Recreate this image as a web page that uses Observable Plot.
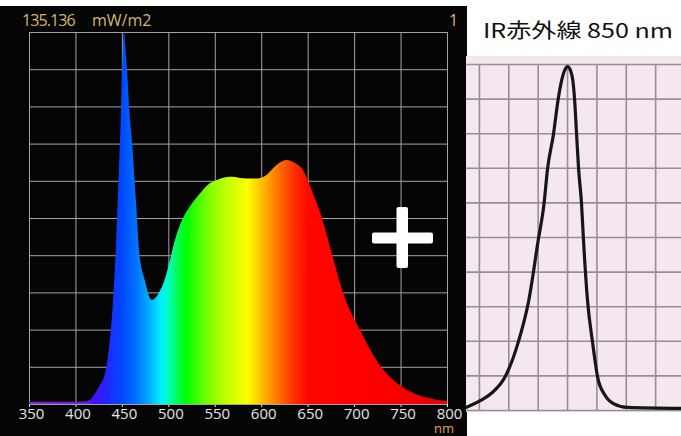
<!DOCTYPE html>
<html><head><meta charset="utf-8">
<script src="https://cdn.jsdelivr.net/npm/d3@7"></script>
<script src="https://cdn.jsdelivr.net/npm/@observablehq/plot@0.6"></script>
<style>
body{margin:0;background:#fff;}
#wrap{position:relative;width:681px;height:436px;overflow:hidden;background:#fff;}
#wrap > svg{position:absolute;}
</style></head><body><div id="wrap"></div>
<script>
// ---- data: visible-light spectrum (left panel) ----
const specNm  = [350,380,410,415,420,426,432,436,440,444,446,448,449.5,451,452.5,454,456,458,461,465,469,475,478,482,486,490,494,498,503,507,514,523,534,545,553,563,569,580,590,598,606,611,620,627,638,645,650,657,665,671,677,688,706,729,752,780,800];
const specVal = [0.006,0.006,0.007,0.01,0.025,0.05,0.085,0.15,0.26,0.45,0.58,0.71,0.82,0.95,1.0,0.95,0.88,0.79,0.70,0.55,0.40,0.33,0.30,0.28,0.285,0.30,0.32,0.35,0.40,0.44,0.49,0.53,0.566,0.594,0.603,0.610,0.611,0.607,0.606,0.607,0.616,0.629,0.649,0.656,0.645,0.629,0.602,0.557,0.503,0.45,0.395,0.30,0.20,0.10,0.046,0.016,0.008];
const xTicks  = [350,400,450,500,550,600,650,700,750,800];
const yGrid   = [0,0.1,0.2,0.3,0.4,0.5,0.6,0.7,0.8,0.9,1];
const headerValue = "135.136";
const headerUnit  = "mW/m2";
const headerRight = "1";
const xUnit = "nm";

// ---- data: IR 850 nm emission (right panel) ----
const irNm  = [764,776,786,797,808,817,825,830,833,838,842,845,847.5,850,852.5,854.5,856,857.7,859.4,861.9,863.6,867,871.3,875.5,881.5,889,901,947];
const irVal = [0.009,0.029,0.052,0.098,0.197,0.318,0.491,0.598,0.699,0.798,0.899,0.954,0.983,0.994,0.983,0.954,0.899,0.798,0.699,0.598,0.491,0.318,0.197,0.098,0.046,0.020,0.009,0.006];
const irGridX = [775,800,825,850,875,900,925];
const irGridY = [0,0.1,0.2,0.3,0.4,0.5,0.6,0.7,0.8,0.9,1];
const irTitle = "IR赤外線 850 nm";

// ---- styles ----
const rainbowStops = [
  [350,"#7a2cc8"],[410,"#6a20e0"],[420,"#4010ff"],[435,"#2028ff"],[450,"#0048ff"],
  [465,"#0070ff"],[480,"#00b0ff"],[492,"#00f0ff"],[500,"#00ffc0"],[510,"#00ff50"],
  [520,"#00ff00"],[540,"#70ff00"],[560,"#b8ff00"],[585,"#ffff00"],[600,"#ffc000"],
  [615,"#ff8000"],[635,"#ff3000"],[650,"#ff0800"],[700,"#ff0000"],[760,"#f40000"],[800,"#e80000"]
];

const wrap = document.getElementById("wrap");

// left panel
const spec = specNm.map((n,i)=>({nm:n, v:specVal[i]}));
const left = Plot.plot({
  width:467, height:430,
  marginLeft:29, marginRight:20, marginTop:26, marginBottom:32,
  style:{background:"#050505", color:"#e4e4e4", fontFamily:"'Open Sans', sans-serif", fontSize:"15px"},
  x:{domain:[350,800], ticks:xTicks, tickSize:3, tickPadding:1, label:null, tickFormat:d=>String(d)},
  y:{domain:[0,1], axis:null},
  marks:[
    Plot.ruleX(xTicks, {stroke:"#a4a4a4", strokeWidth:1}),
    Plot.ruleY(yGrid, {stroke:"#a4a4a4", strokeWidth:1}),
    Plot.areaY(spec, {x:"nm", y:"v", fill:"url(#rainbow)", curve:"monotone-x"})
  ]
});
left.style.left="0px"; left.style.top="6px";
{
  const xs = left.scale("x");
  const grad = d3.select(left).insert("defs",":first-child")
    .append("linearGradient").attr("id","rainbow").attr("gradientUnits","userSpaceOnUse")
    .attr("x1", xs.apply(350)).attr("x2", xs.apply(800)).attr("y1",0).attr("y2",0);
  rainbowStops.forEach(([n,c])=>grad.append("stop").attr("offset",(n-350)/450).attr("stop-color",c));
  d3.select(left).selectAll("text").filter(function(){return xTicks.map(String).includes(this.textContent);})
    .attr("dx", 2);
}
wrap.appendChild(left);

// right panel
const ir = irNm.map((n,i)=>({nm:n, v:irVal[i]}));
const right = Plot.plot({
  width:215, height:356,
  marginLeft:0, marginRight:0, marginTop:8, marginBottom:2,
  style:{background:"#f4e7ef"},
  x:{domain:[764,947], axis:null},
  y:{domain:[0,1], axis:null},
  marks:[
    Plot.ruleX(irGridX, {stroke:"#9c8c97", strokeWidth:1.6}),
    Plot.ruleY(irGridY, {stroke:"#9c8c97", strokeWidth:1.6}),
    Plot.line(ir, {x:"nm", y:"v", stroke:"#161616", strokeWidth:3.2, curve:"monotone-x"})
  ]
});
right.style.left="466px"; right.style.top="56px";
wrap.appendChild(right);

// overlay texts and plus sign
const ov = d3.select(wrap).append("svg").attr("width",681).attr("height",436)
  .style("left","0px").style("top","0px").style("pointer-events","none");
const hdr = {"font-family":"'Open Sans', sans-serif","font-size":"16px","fill":"#d8b46c"};
function txt(s,x,y,attrs){const t=ov.append("text").attr("x",x).attr("y",y).text(s);for(const k in attrs)t.attr(k,attrs[k]);return t;}
txt(headerValue,22,26,{...hdr,"letter-spacing":"-0.9"});
txt(headerUnit,92,26,hdr);
txt(headerRight,449,26,hdr);
txt(xUnit,434,432.5,{"font-family":"'Open Sans', sans-serif","font-size":"13px","fill":"#e3a03a"});
txt(irTitle,483,38,{"font-family":"'Noto Sans CJK JP', sans-serif","font-size":"20px","fill":"#111","textLength":190,"lengthAdjust":"spacingAndGlyphs"});
ov.append("rect").attr("x",372).attr("y",232.5).attr("width",61).attr("height",11).attr("rx",2).attr("fill","#fff");
ov.append("rect").attr("x",396.5).attr("y",207).attr("width",11.5).attr("height",61).attr("rx",2).attr("fill","#fff");
</script>
</body></html>
